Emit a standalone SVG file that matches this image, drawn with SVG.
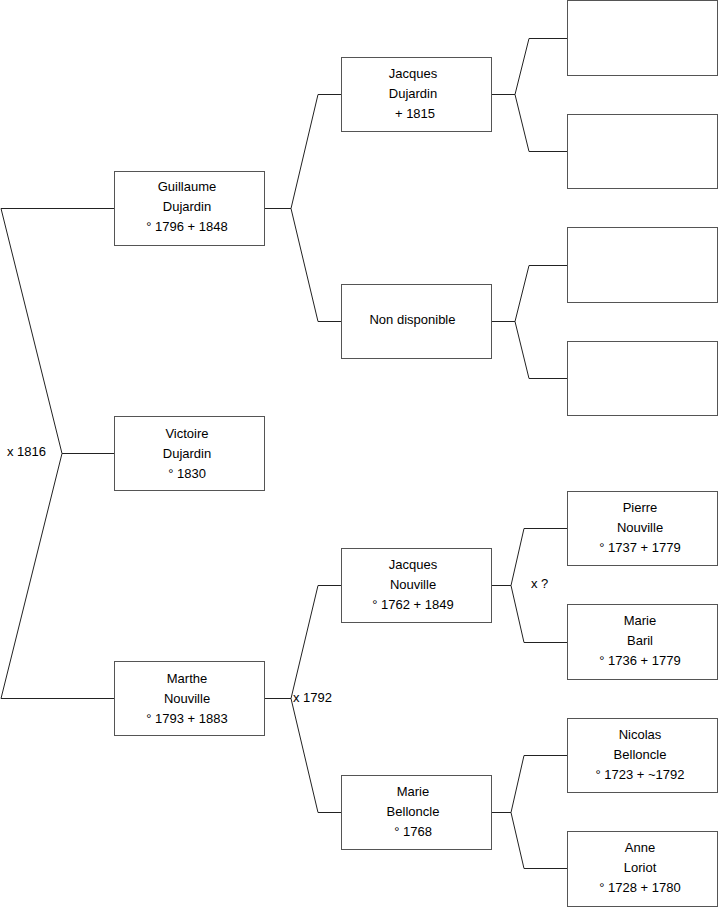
<svg xmlns="http://www.w3.org/2000/svg" width="719" height="908" viewBox="0 0 719 908">
<style>
.b{fill:#fff;stroke:#555;stroke-width:1}
.t{font-family:"Liberation Sans",Arial,sans-serif;font-size:13px;fill:#000;text-anchor:middle}
.l{font-family:"Liberation Sans",Arial,sans-serif;font-size:13px;fill:#000}
.c{fill:none;stroke:#222;stroke-width:1}
</style>
<rect width="719" height="908" fill="#fff"/>
<g id="connectors">
<polyline class="c" points="114,208.5 1,208.5 62,453.5 1,698.5 114,698.5"/>
<line class="c" x1="62" y1="453.5" x2="114" y2="453.5"/>
<polyline class="c" points="341,94.5 318,94.5 291,208.5 318,321.5 341,321.5"/>
<line class="c" x1="265" y1="208.5" x2="291" y2="208.5"/>
<polyline class="c" points="341,585.5 318,585.5 291,698.5 318,812.5 341,812.5"/>
<line class="c" x1="265" y1="698.5" x2="291" y2="698.5"/>
<polyline class="c" points="567,38.5 529,38.5 515,94.5 529,151.5 567,151.5"/>
<line class="c" x1="491" y1="94.5" x2="515" y2="94.5"/>
<polyline class="c" points="567,265.5 529,265.5 515,321.5 529,378.5 567,378.5"/>
<line class="c" x1="491" y1="321.5" x2="515" y2="321.5"/>
<polyline class="c" points="567,528.5 524,528.5 511,585.5 524,642.5 567,642.5"/>
<line class="c" x1="491" y1="585.5" x2="511" y2="585.5"/>
<polyline class="c" points="567,755.5 524,755.5 511,812.5 524,868.5 567,868.5"/>
<line class="c" x1="491" y1="812.5" x2="511" y2="812.5"/>
<text class="l" x="7" y="456">x 1816</text>
<text class="l" x="293" y="702">x 1792</text>
<text class="l" x="531" y="588">x ?</text>
</g>
<g id="guillaume"><rect class="b" x="114.5" y="171.5" width="150" height="74"/>
<text class="t" x="187" y="190.5">Guillaume</text><text class="t" x="187" y="210.5">Dujardin</text><text class="t" x="187" y="230.5">° 1796 + 1848</text></g>
<g id="victoire"><rect class="b" x="114.5" y="416.5" width="150" height="74"/>
<text class="t" x="187" y="437.5">Victoire</text><text class="t" x="187" y="457.5">Dujardin</text><text class="t" x="187" y="477.5">° 1830</text></g>
<g id="marthe"><rect class="b" x="114.5" y="661.5" width="150" height="74"/>
<text class="t" x="187" y="682.5">Marthe</text><text class="t" x="187" y="702.5">Nouville</text><text class="t" x="187" y="722.5">° 1793 + 1883</text></g>
<g id="jacques-dujardin"><rect class="b" x="341.5" y="57.5" width="150" height="74"/>
<text class="t" x="413" y="77.5">Jacques</text><text class="t" x="413" y="97.5">Dujardin</text><text class="t" x="415" y="117.5">+ 1815</text></g>
<g id="non-disponible"><rect class="b" x="341.5" y="284.5" width="150" height="74"/>
<text class="t" x="412.5" y="324">Non disponible</text></g>
<g id="jacques-nouville"><rect class="b" x="341.5" y="548.5" width="150" height="74"/>
<text class="t" x="413" y="568.5">Jacques</text><text class="t" x="413" y="588.5">Nouville</text><text class="t" x="413" y="608.5">° 1762 + 1849</text></g>
<g id="marie-belloncle"><rect class="b" x="341.5" y="775.5" width="150" height="74"/>
<text class="t" x="413" y="795.5">Marie</text><text class="t" x="413" y="815.5">Belloncle</text><text class="t" x="413" y="835.5">° 1768</text></g>
<g id="empty1"><rect class="b" x="567.5" y="0.5" width="150" height="75"/></g>
<g id="empty2"><rect class="b" x="567.5" y="114.5" width="150" height="74"/></g>
<g id="empty3"><rect class="b" x="567.5" y="227.5" width="150" height="75"/></g>
<g id="empty4"><rect class="b" x="567.5" y="341.5" width="150" height="74"/></g>
<g id="pierre"><rect class="b" x="567.5" y="491.5" width="150" height="74"/>
<text class="t" x="640" y="511.5">Pierre</text><text class="t" x="640" y="531.5">Nouville</text><text class="t" x="640" y="551.5">° 1737 + 1779</text></g>
<g id="marie-baril"><rect class="b" x="567.5" y="604.5" width="150" height="75"/>
<text class="t" x="640" y="624.5">Marie</text><text class="t" x="640" y="644.5">Baril</text><text class="t" x="640" y="664.5">° 1736 + 1779</text></g>
<g id="nicolas"><rect class="b" x="567.5" y="718.5" width="150" height="74"/>
<text class="t" x="640" y="738.5">Nicolas</text><text class="t" x="640" y="758.5">Belloncle</text><text class="t" x="640" y="778.5">° 1723 + ~1792</text></g>
<g id="anne"><rect class="b" x="567.5" y="831.5" width="150" height="75"/>
<text class="t" x="640" y="851.5">Anne</text><text class="t" x="640" y="871.5">Loriot</text><text class="t" x="640" y="891.5">° 1728 + 1780</text></g>
</svg>
